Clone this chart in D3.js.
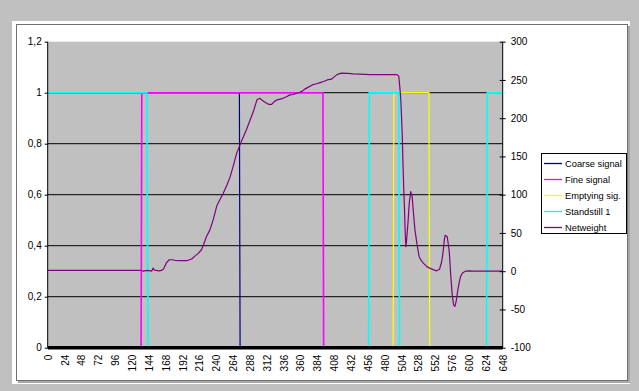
<!DOCTYPE html>
<html><head><meta charset="utf-8">
<script src="https://cdn.jsdelivr.net/npm/d3@7"></script>
<style>html,body{margin:0;padding:0;background:#c0c0c0;}svg{display:block;}text{font-family:"Liberation Sans",Arial,sans-serif;fill:#000;}</style>
</head><body>
<svg id="c" width="639" height="391"></svg>
<script>
// ---- data ----
const xTickLabels = [0,24,48,72,96,120,144,168,192,216,240,264,288,312,336,360,384,408,432,456,480,504,528,552,576,600,624,648];
const leftTicks = [0,0.2,0.4,0.6,0.8,1,1.2];
const rightTicks = [-100,-50,0,50,100,150,200,250,300];
const seriesNames = ["Coarse signal","Fine signal","Emptying sig.","Standstill 1","Netweight"];
const seriesColors = ["#000080","#ff00ff","#ffff00","#00ffff","#800080"];

// step signals: [time, value]
const coarseSignal = [[0,1],[273,1],[274,0],[648,0]];
const fineSignal = [[0,0],[133,0],[134,1],[392,1],[393,0],[648,0]];
const emptyingSignal = [[0,0],[492,0],[493,1],[543,1],[544,0],[648,0]];
const standstill1 = [[0,1],[141,1],[143,0],[457,0],[458,1],[500,1],[501,0],[625,0],[626,1],[648,1]];
// netweight (right axis): [time, value]
const netweight = [[0,1],[134,1],[136,0],[142,1],[146,0.5],[148,0],[150,4],[152,1.5],[155,1],[158,0.5],[162,1],[165,3],[169,11],[173,15],[177,15],[182,14],[188,13.7],[198,13.7],[205,16],[210,20],[214,23],[219,28],[222,35],[226,45],[231,54],[236,68],[241,86],[245,93],[250,102],[255,112],[260,124],[265,140],[269,154],[276,170],[283,185],[288,197],[293,209],[298,224],[302,226],[306,223],[310,220.5],[315,218],[319,218],[323,222],[327,224],[335,226],[340,228],[345,230.5],[350,231],[355,233],[358,233.5],[362,235],[366,238],[370,240],[378,244],[383,245],[388,246.5],[393,248],[398,250],[404,251],[408,254],[412,257],[418,259],[428,258.5],[435,258],[445,257.5],[459,257],[475,257],[490,257],[497,257],[500,255],[502,235],[503,222],[504,200],[505,176],[506,140],[507,110],[508,85],[509,55],[510,32],[511,39],[513,62],[515,90],[517,104],[519,98],[521,75],[523,54],[526,35],[529,19],[532,14],[535,10.5],[540,6],[544,4],[549,2],[554,0.5],[558,2.5],[561,12],[563,24],[565,42],[566,47],[569,45],[571,32],[572,24],[574,-5],[576,-30],[578,-44],[580,-46],[582,-38],[584,-25],[586,-15],[588,-7],[591,-2],[595,0],[601,0.5],[605,0],[648,0]];

// ---- layout ----
const svg = d3.select("#c");
const L = 47.7, R = 502.7, T = 41.7, B = 347.7;
const x = d3.scaleLinear().domain([0,648]).range([L,R]);
const yL = d3.scaleLinear().domain([0,1.2]).range([B,T]);
const yR = d3.scaleLinear().domain([-100,300]).range([B,T]);

svg.append("rect").attr("width",639).attr("height",391).attr("fill","#c0c0c0");
svg.append("rect").attr("x",12).attr("y",21).attr("width",618).attr("height",363).attr("fill","#fff");
svg.append("rect").attr("x",16.5).attr("y",24.5).attr("width",611).attr("height",356)
  .attr("fill","none").attr("stroke","#707070").attr("stroke-width",1);
svg.append("line").attr("x1",629).attr("x2",629).attr("y1",26).attr("y2",383).attr("stroke","#a8a8a8").attr("stroke-width",2);
svg.append("line").attr("x1",18).attr("x2",630).attr("y1",382).attr("y2",382).attr("stroke","#a8a8a8").attr("stroke-width",2);

// plot area
svg.append("rect").attr("x",L).attr("y",T).attr("width",R-L).attr("height",B-T).attr("fill","#c0c0c0");

// gridlines
svg.append("g").selectAll("line").data(leftTicks.filter(d=>d>0 && d<1.2)).join("line")
  .attr("x1",L).attr("x2",R).attr("y1",d=>yL(d)).attr("y2",d=>yL(d))
  .attr("stroke","#000").attr("stroke-width",1);

// series
const lineL = d3.line().x(d=>x(d[0])).y(d=>yL(d[1]));
const lineR = d3.line().x(d=>x(d[0])).y(d=>yR(d[1]));
const sig = [coarseSignal, fineSignal, emptyingSignal, standstill1];
const widths = [1.2,1.6,1.2,1.6];
sig.forEach((s,i)=>{
  svg.append("path").attr("d",lineL(s)).attr("fill","none")
    .attr("stroke",seriesColors[i]).attr("stroke-width",widths[i]);
});
svg.append("path").attr("d",lineR(netweight)).attr("fill","none")
  .attr("stroke",seriesColors[4]).attr("stroke-width",1.2).attr("stroke-linejoin","round");

// axes
const fmtL = d => String(d).replace(".",",");
const axL = svg.append("g").attr("transform",`translate(${L},0)`)
  .call(d3.axisLeft(yL).tickValues(leftTicks).tickFormat(fmtL).tickSize(3).tickPadding(3));
const axR = svg.append("g").attr("transform",`translate(${R},0)`)
  .call(d3.axisRight(yR).tickValues(rightTicks).tickFormat(d=>String(d)).tickSize(3).tickPadding(5));
axR.selectAll(".tick line").attr("x1",-3);
const axB = svg.append("g").attr("transform",`translate(0,${B})`)
  .call(d3.axisBottom(x).tickValues(xTickLabels).tickFormat(d=>String(d)).tickSize(0).tickPadding(0));
[axL,axR,axB].forEach(a=>{
  a.selectAll(".domain").remove();
  a.selectAll("text").style("font-size","10px").style("font-family","'Liberation Sans',Arial,sans-serif");
  a.selectAll("line").attr("stroke","#000");
});
axB.selectAll("text").attr("transform","rotate(-90)").attr("text-anchor","end")
  .attr("x",-7).attr("y",0).attr("dy","0.35em");
svg.append("line").attr("x1",L).attr("x2",L).attr("y1",T).attr("y2",B).attr("stroke","#000");
svg.append("line").attr("x1",R).attr("x2",R).attr("y1",T).attr("y2",B).attr("stroke","#000");
svg.append("line").attr("x1",L).attr("x2",R).attr("y1",B).attr("y2",B).attr("stroke","#000").attr("stroke-width",3.5);

// legend
const lg = svg.append("g");
lg.append("rect").attr("x",541.5).attr("y",153.5).attr("width",85).attr("height",80)
  .attr("fill","#fff").attr("stroke","#000");
seriesNames.forEach((n,i)=>{
  const yy = 163.5 + i*16;
  lg.append("line").attr("x1",544).attr("x2",562).attr("y1",yy).attr("y2",yy)
    .attr("stroke",seriesColors[i]).attr("stroke-width",1.3);
  lg.append("text").attr("x",565).attr("y",yy).attr("dy","0.35em")
    .style("font-size","9.3px").text(n);
});
</script>
</body></html>
